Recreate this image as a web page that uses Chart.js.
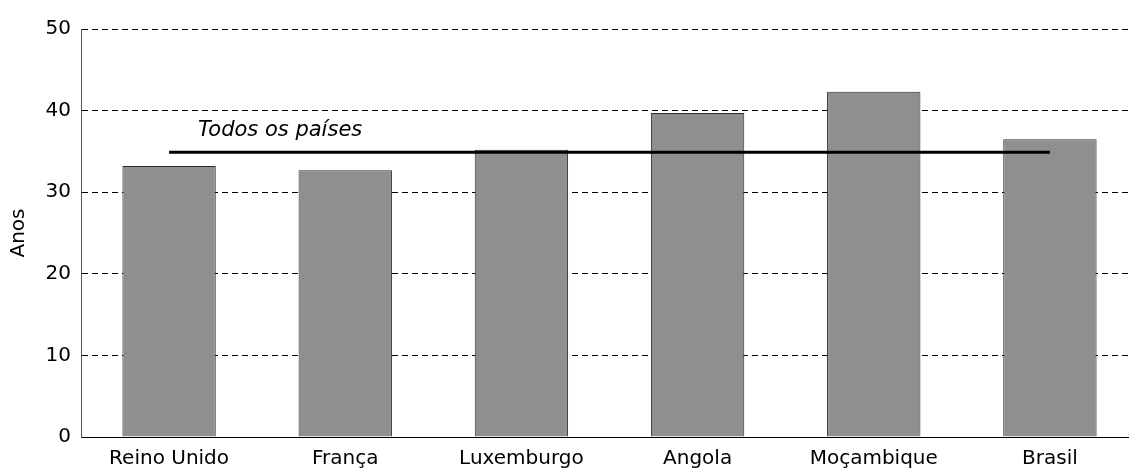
<!DOCTYPE html>
<html>
<head>
<meta charset="utf-8">
<script src="https://cdn.jsdelivr.net/npm/chart.js@4/dist/chart.umd.min.js"></script>
<style>
  html, body { margin: 0; padding: 0; background: #fff; overflow: hidden; }
  #wrap { width: 1140px; height: 473px; }
</style>
</head>
<body>
<div id="wrap"><canvas id="myChart" width="1140" height="473"></canvas></div>
<script>
// dados do gráfico
const paises = ["Reino Unido", "França", "Luxemburgo", "Angola", "Moçambique", "Brasil"];
const idades = [33.2, 32.7, 35.2, 39.7, 42.3, 36.5];
const todosPaises = [34.9, 34.9, 34.9, 34.9, 34.9, 34.9];
const rotuloLinha = "Todos os países";
const tituloY = "Anos";

const fonte = "'DejaVu Sans', 'Liberation Sans', Arial, sans-serif";

// texto em itálico por cima da linha
const rotuloPlugin = {
    id: "rotulo",
    afterDatasetsDraw(chart) {
        const x = chart.scales.x.getPixelForValue(0) + 29;
        const y = chart.scales.y.getPixelForValue(todosPaises[0]) - 16;
        const ctx = chart.ctx;
        ctx.save();
        ctx.font = "italic 21px " + fonte;
        ctx.fillStyle = "#000";
        ctx.textAlign = "left";
        ctx.textBaseline = "alphabetic";
        ctx.fillText(rotuloLinha, x, y);
        ctx.restore();
    }
};

const ctx = document.getElementById("myChart").getContext("2d");
const myChart = new Chart(ctx, {
    type: "bar",
    data: {
        labels: paises,
        datasets: [
            {
                type: "line",
                label: rotuloLinha,
                data: todosPaises,
                borderColor: "#000",
                borderWidth: 3,
                pointRadius: 0,
                fill: false,
                order: 0
            },
            {
                label: "Idade",
                data: idades,
                backgroundColor: "#8f8f8f",
                borderColor: "#2b2b2b",
                borderWidth: 1,
                barPercentage: 0.53,
                categoryPercentage: 1,
                order: 1
            }
        ]
    },
    options: {
        responsive: false,
        animation: false,
        layout: { padding: { left: 0, right: 2, top: 29, bottom: 0 } },
        plugins: {
            legend: { display: false },
            tooltip: { enabled: false }
        },
        scales: {
            x: {
                grid: { display: false, drawTicks: false },
                border: { display: true, color: "#000", width: 1 },
                ticks: {
                    color: "#000",
                    font: { family: fonte, size: 20 },
                    padding: 10,
                    maxRotation: 0
                },
                afterFit(scale) { scale.height = 36; }
            },
            y: {
                min: 0,
                max: 50,
                ticks: {
                    stepSize: 10,
                    color: "#000",
                    font: { family: fonte, size: 20 },
                    padding: 10
                },
                grid: {
                    color: "#000",
                    lineWidth: 1,
                    drawTicks: false
                },
                border: { display: true, color: "#555", width: 1, dash: [6, 4] },
                title: {
                    display: true,
                    text: tituloY,
                    color: "#000",
                    font: { family: fonte, size: 20 },
                    padding: { top: 7, bottom: 0 }
                },
                afterFit(scale) { scale.width = 81; }
            }
        }
    },
    plugins: [rotuloPlugin]
});
</script>
</body>
</html>
